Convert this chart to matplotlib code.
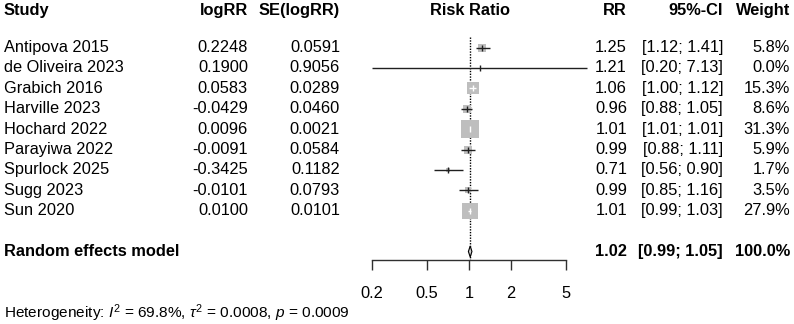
import numpy as np
import matplotlib
matplotlib.use("Agg")
import matplotlib.pyplot as plt
from matplotlib.patches import Polygon

plt.rcParams['font.family'] = ['Liberation Sans', 'DejaVu Sans']
plt.rcParams['mathtext.fontset'] = 'custom'
plt.rcParams['mathtext.rm'] = 'Liberation Sans'
plt.rcParams['mathtext.it'] = 'Liberation Sans:italic'
plt.rcParams['mathtext.bf'] = 'Liberation Sans:bold'

# ---------------- data ----------------
studies = ["Antipova 2015", "de Oliveira 2023", "Grabich 2016", "Harville 2023",
           "Hochard 2022", "Parayiwa 2022", "Spurlock 2025", "Sugg 2023", "Sun 2020"]
logrr = ["0.2248", "0.1900", "0.0583", "-0.0429", "0.0096", "-0.0091", "-0.3425", "-0.0101", "0.0100"]
se_logrr = ["0.0591", "0.9056", "0.0289", "0.0460", "0.0021", "0.0584", "0.1182", "0.0793", "0.0101"]
rr = [1.25, 1.21, 1.06, 0.96, 1.01, 0.99, 0.71, 0.99, 1.01]
ci_lo = [1.12, 0.20, 1.00, 0.88, 1.01, 0.88, 0.56, 0.85, 0.99]
ci_hi = [1.41, 7.13, 1.12, 1.05, 1.01, 1.11, 0.90, 1.16, 1.03]
weight = [5.8, 0.0, 15.3, 8.6, 31.3, 5.9, 1.7, 3.5, 27.9]
re_rr, re_lo, re_hi, re_w = 1.02, 0.99, 1.05, 100.0
ticks = [0.2, 0.5, 1, 2, 5]
tick_labels = ["0.2", "0.5", "1", "2", "5"]
heterogeneity = r"Heterogeneity: $I^2$ = 69.8%, $\tau^2$ = 0.0008, $p$ = 0.0009"

# ---------------- layout ----------------
W, H, DPI = 794, 324, 100
first_px, row_px = 47.5, 20.4
def row(px):
    return (px - first_px) / row_px
ylim = (row(H), row(0))

fig = plt.figure(figsize=(W / DPI, H / DPI), dpi=DPI)
tax = fig.add_axes([0, 0, 1, 1])
tax.set_xlim(0, W)
tax.set_ylim(*ylim)
tax.axis('off')

FS = 11.8
hdr = row(10)
tax.text(4, hdr, "Study", ha='left', va='center', fontsize=FS, fontweight='bold')
tax.text(248, hdr, "logRR", ha='right', va='center', fontsize=FS, fontweight='bold')
tax.text(340, hdr, "SE(logRR)", ha='right', va='center', fontsize=FS, fontweight='bold')
tax.text(470, hdr, "Risk Ratio", ha='center', va='center', fontsize=FS, fontweight='bold')
tax.text(627, hdr, "RR", ha='right', va='center', fontsize=FS, fontweight='bold')
tax.text(723, hdr, "95%-CI", ha='right', va='center', fontsize=FS, fontweight='bold')
tax.text(790, hdr, "Weight", ha='right', va='center', fontsize=FS, fontweight='bold')

for i, s in enumerate(studies):
    tax.text(4, i, s, ha='left', va='center', fontsize=FS)
    tax.text(248, i, logrr[i], ha='right', va='center', fontsize=FS)
    tax.text(340, i, se_logrr[i], ha='right', va='center', fontsize=FS)
    tax.text(627, i, f"{rr[i]:.2f}", ha='right', va='center', fontsize=FS)
    tax.text(723, i, f"[{ci_lo[i]:.2f}; {ci_hi[i]:.2f}]", ha='right', va='center', fontsize=FS)
    tax.text(790, i, f"{weight[i]:.1f}%", ha='right', va='center', fontsize=FS)

re_row = len(studies) + 1
tax.text(4, re_row, "Random effects model", ha='left', va='center', fontsize=FS, fontweight='bold')
tax.text(627, re_row, f"{re_rr:.2f}", ha='right', va='center', fontsize=FS, fontweight='bold')
tax.text(723, re_row, f"[{re_lo:.2f}; {re_hi:.2f}]", ha='right', va='center', fontsize=FS, fontweight='bold')
tax.text(790, re_row, f"{re_w:.1f}%", ha='right', va='center', fontsize=FS, fontweight='bold')

tax.text(4, row(313), heterogeneity, ha='left', va='center', fontsize=11.1)

# ---------------- forest ----------------
x0_px, x1_px = 372, 566
fax = fig.add_axes([x0_px / W, 0, (x1_px - x0_px) / W, 1])
fax.set_xscale('log')
fax.set_xlim(ticks[0], ticks[-1])
fax.set_ylim(*ylim)
fax.patch.set_alpha(0)
for sp in ['top', 'left', 'right']:
    fax.spines[sp].set_visible(False)
axis_row = row(260)
fax.spines['bottom'].set_position(('data', axis_row))
fax.spines['bottom'].set_bounds(ticks[0], ticks[-1])
fax.spines['bottom'].set_linewidth(1.0)
fax.spines['bottom'].set_color('#303030')
fax.set_xticks(ticks)
fax.set_xticklabels(tick_labels)
fax.minorticks_off()
fax.tick_params(axis='x', which='major', direction='out', length=7.5, width=1.0,
                color='#303030', labelsize=FS, pad=11)
fax.set_yticks([])

px_per_log = (x1_px - x0_px) / np.log(ticks[-1] / ticks[0])

# random-effects (dotted) line, overlapping the reference line at 1
top_row = row(37)
fax.plot([re_rr, re_rr], [top_row, axis_row], color='black', lw=1.0, ls=(0, (1, 1)), zorder=1)

k = 3.04
for i in range(len(studies)):
    side_px = k * np.sqrt(weight[i])
    if weight[i] > 0:
        side_pt = side_px * 72 / DPI
        fax.scatter([rr[i]], [i], marker='s', s=side_pt ** 2, color='#BEBEBE',
                    linewidths=0, zorder=2)
    half_log = side_px / 2 / px_per_log
    inside = (np.log(ci_lo[i]) >= np.log(rr[i]) - half_log) and (np.log(ci_hi[i]) <= np.log(rr[i]) + half_log)
    col = 'white' if (inside and weight[i] > 0) else '#202020'
    fax.plot([ci_lo[i], ci_hi[i]], [i, i], color=col, lw=1.0, zorder=3, clip_on=False,
             solid_capstyle='butt')
    fax.plot([rr[i]], [i], marker='|', markersize=4.5, mew=1.0, color=col, zorder=3)

# diamond
hh = 5.5 / row_px
diamond = Polygon([(re_lo, re_row), (re_rr, re_row - hh), (re_hi, re_row), (re_rr, re_row + hh)],
                  closed=True, facecolor='#D0D0D0', edgecolor='black', lw=0.8, zorder=4)
fax.add_patch(diamond)

fig.savefig("out.png", dpi=DPI)
